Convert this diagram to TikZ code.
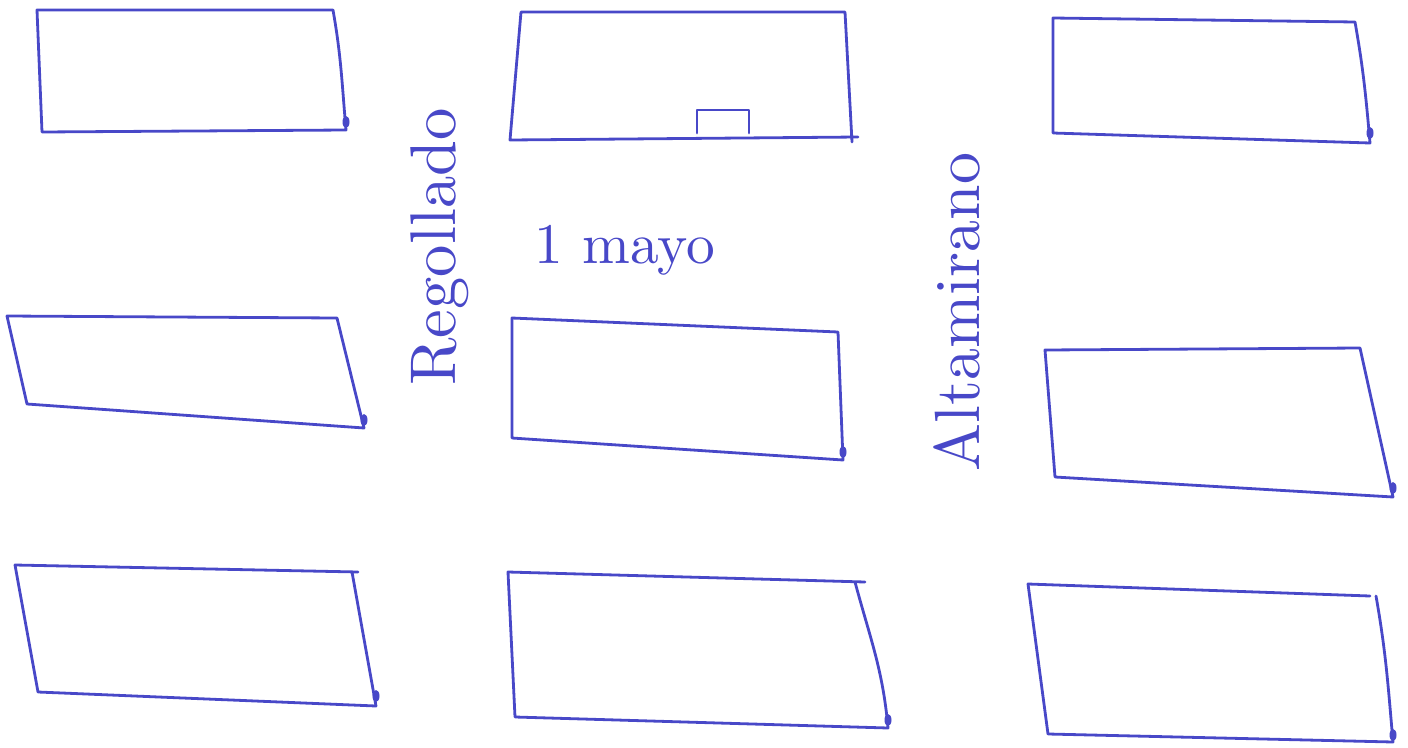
\documentclass[tikz,border=0pt]{standalone}
\usepackage{graphicx}
\definecolor{ink}{RGB}{72,72,200}
\tikzset{block/.style={draw=ink,line width=2.8pt,line join=round,line cap=round},
  street/.style={text=ink,inner sep=0pt},
  dot/.style={fill=ink,draw=none}}
\begin{document}
\begin{tikzpicture}[x=1pt,y=-1pt]
\useasboundingbox (0,0) rectangle (1408,747);
% top row
\draw[block] (37,10) -- (333,10) to[out=-80,in=95] (346,130) -- (42,132) -- cycle;
\draw[block] (852,142) -- (845,12) -- (521,12) -- (510,140) -- (858,137);
\draw[block] (697,133) -- (697,110) -- (749,110) -- (749,133);
\draw[block] (1053,18) -- (1355,22) to[out=-80,in=95] (1370,143) -- (1053,133) -- cycle;
% middle row
\draw[block] (7,316) -- (337,318) -- (364,428) -- (27,404) -- cycle;
\draw[block] (512,318) -- (838,332) -- (843,460) -- (512,438) -- cycle;
\draw[block] (1045,350) -- (1360,348) -- (1393,497) -- (1055,477) -- cycle;
% bottom row
\draw[block] (352,572) -- (376,706) -- (38,692) -- (15,565) -- (358,572);
\draw[block] (855,582) to[out=-75,in=95] (888,728) -- (515,717) -- (508,572) -- (865,582);
\draw[block] (1376,596) to[out=-80,in=95] (1393,742) -- (1048,734) -- (1028,584) -- (1370,596);
% corner dots
\foreach \p in {(346,122),(1370,133),(364,420),(843,452),(1393,488),(376,696),(888,720),(1393,735)}
  \fill[dot] \p ellipse (3.5pt and 6pt);
% street names
\node[street,rotate=90] (regollado) at (440,247) {\resizebox{277pt}{!}{Regollado}};
\node[street] (mayo) at (625,250) {\resizebox{180pt}{!}{1 mayo}};
\node[street,rotate=90] (altamirano) at (957,312) {\resizebox{318pt}{!}{Altamirano}};
\end{tikzpicture}
\end{document}
